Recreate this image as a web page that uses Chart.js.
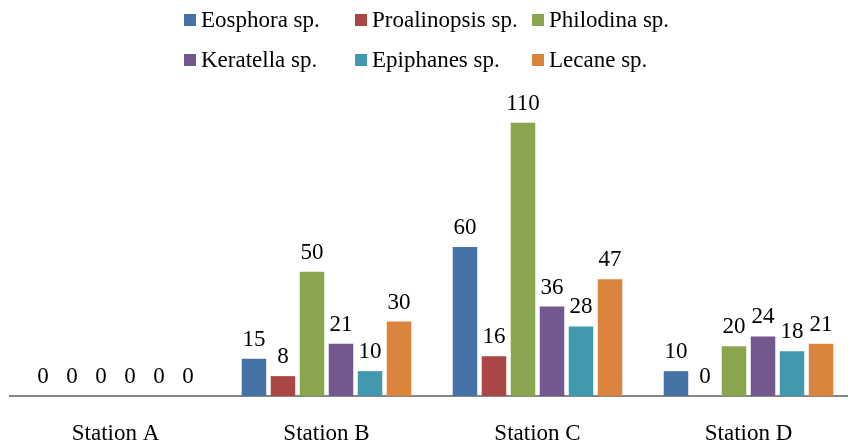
<!DOCTYPE html>
<html>
<head>
<meta charset="utf-8">
<script src="https://cdn.jsdelivr.net/npm/chart.js@4/dist/chart.umd.min.js"></script>
<style>
  html, body { margin: 0; padding: 0; background: #fff; overflow: hidden; }
  #wrap { position: relative; width: 858px; height: 443px; overflow: hidden; }
  #legend { position: absolute; left: 0; top: 0; width: 848px; height: 80px; font: 23px "Liberation Serif", "Times New Roman", serif; color: #000; }
  .item { position: absolute; display: flex; align-items: center; line-height: 23px; white-space: nowrap; }
  .box { width: 12px; height: 12px; margin-right: 5px; }
</style>
</head>
<body>
<div id="wrap">
  <canvas id="chart" width="858" height="471"></canvas>
  <div id="legend"></div>
</div>
<script>
// categories and series values
const categories = ["Station A", "Station B", "Station C", "Station D"]
const eosphora = [0, 15, 60, 10]
const proalinopsis = [0, 8, 16, 0]
const philodina = [0, 50, 110, 20]
const keratella = [0, 21, 36, 24]
const epiphanes = [0, 10, 28, 18]
const lecane = [0, 30, 47, 21]

const seriesNames = ["Eosphora sp.", "Proalinopsis sp.", "Philodina sp.", "Keratella sp.", "Epiphanes sp.", "Lecane sp."]
const seriesData = [eosphora, proalinopsis, philodina, keratella, epiphanes, lecane]
const seriesColors = ["#4572A7", "#AA4643", "#89A54E", "#71588F", "#4198AF", "#DB843D"]

const FONT = '"Liberation Serif", "Times New Roman", serif'

// étiquettes de valeur au-dessus des barres
const valueLabels = {
  id: "valueLabels",
  afterDatasetsDraw(chart) {
    const ctx = chart.ctx
    ctx.save()
    ctx.font = "23px " + FONT
    ctx.fillStyle = "#000"
    ctx.textAlign = "center"
    ctx.textBaseline = "alphabetic"
    chart.data.datasets.forEach((ds, i) => {
      chart.getDatasetMeta(i).data.forEach((bar, j) => {
        ctx.fillText(String(ds.data[j]), bar.x, bar.y - 13)
      })
    })
    ctx.restore()
  }
}

new Chart(document.getElementById("chart"), {
  type: "bar",
  data: {
    labels: categories,
    datasets: seriesNames.map((name, i) => ({
      label: name,
      data: seriesData[i],
      backgroundColor: seriesColors[i],
      categoryPercentage: 0.825,
      barPercentage: 0.845
    }))
  },
  options: {
    responsive: false,
    animation: false,
    layout: { padding: { top: 98, left: 10, right: 4, bottom: 0 } },
    plugins: { legend: { display: false }, tooltip: { enabled: false } },
    scales: {
      x: {
        grid: { display: false, drawTicks: false },
        border: { display: true, color: "#868686", width: 2 },
        ticks: { color: "#000", padding: 26, font: { family: FONT, size: 23, lineHeight: 1 } }
      },
      y: { display: false, min: 0, max: 120 }
    }
  },
  plugins: [valueLabels]
})

// légende HTML en deux lignes de trois colonnes
const legendCols = [184, 355, 532]
const legendRows = [8, 48]
const legend = document.getElementById("legend")
seriesNames.forEach((name, i) => {
  const item = document.createElement("div")
  item.className = "item"
  item.style.left = legendCols[i % 3] + "px"
  item.style.top = legendRows[Math.floor(i / 3)] + "px"
  item.innerHTML = '<span class="box" style="background:' + seriesColors[i] + '"></span><span>' + name + "</span>"
  legend.appendChild(item)
})
</script>
</body>
</html>
